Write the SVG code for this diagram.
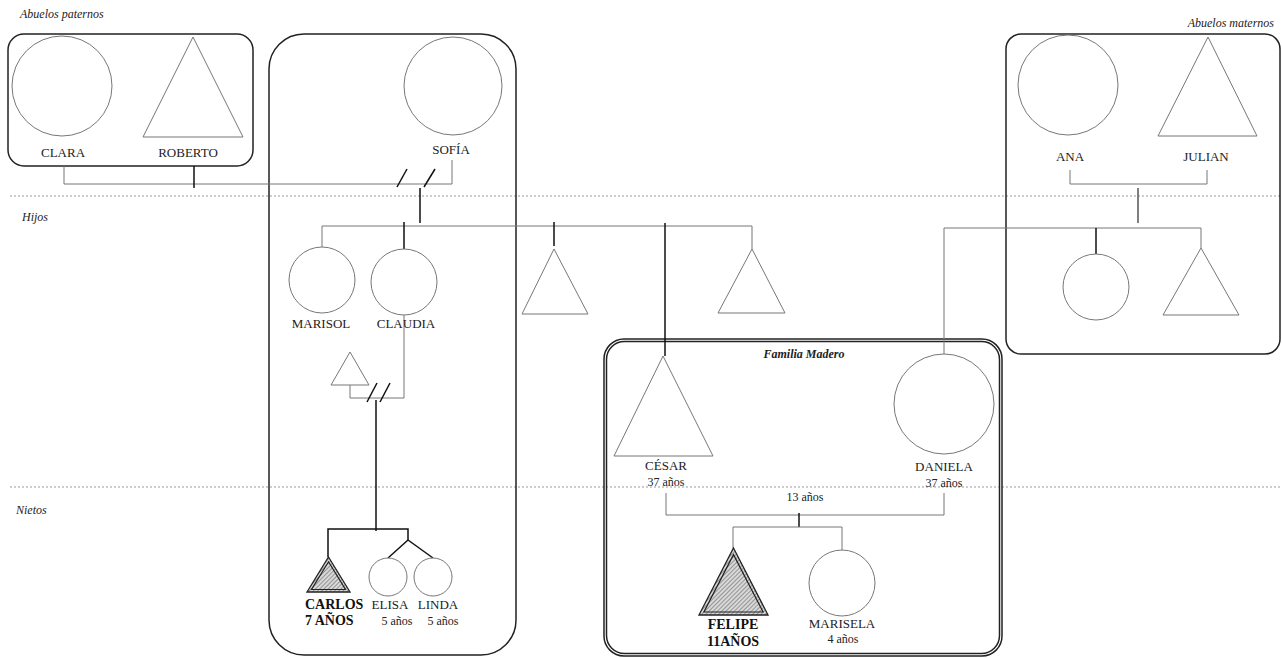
<svg xmlns="http://www.w3.org/2000/svg" width="1282" height="658" viewBox="0 0 1282 658">
<style>
.bg{fill:#fff}
.box{fill:none;stroke:#222;stroke-width:1.5}
.shape{fill:#fff;stroke:#777;stroke-width:1}
.c{fill:none;stroke:#777;stroke-width:1}
.cb{fill:none;stroke:#111;stroke-width:1.5}
.dot{stroke:#999;stroke-width:1;stroke-dasharray:2,2}
.n{font-family:"Liberation Serif","DejaVu Serif",serif;font-size:13px;fill:#222;text-anchor:middle}
.a{font-family:"Liberation Serif","DejaVu Serif",serif;font-size:12px;fill:#222;text-anchor:middle}
.b{font-family:"Liberation Serif","DejaVu Serif",serif;font-size:14px;font-weight:bold;fill:#111}
.lab{font-family:"Liberation Serif","DejaVu Serif",serif;font-size:12px;font-style:italic;fill:#222}
.hat{fill:url(#hatch);stroke:#222;stroke-width:1.3}
.hin{fill:none;stroke:#222;stroke-width:1.2}
</style>
<defs>
<pattern id="hatch" width="3" height="3" patternUnits="userSpaceOnUse" patternTransform="rotate(45)">
<rect width="3" height="3" fill="#d8d8d8"/>
<line x1="0" y1="0" x2="0" y2="3" stroke="#777" stroke-width="1.4"/>
</pattern>
</defs>
<rect class="bg" x="0" y="0" width="1282" height="658"/>

<g id="generations">
<line class="dot" x1="10" y1="196" x2="1282" y2="196"/>
<line class="dot" x1="10" y1="487" x2="1282" y2="487"/>
<text class="lab" x="20" y="18">Abuelos paternos</text>
<text class="lab" x="1274" y="27" text-anchor="end">Abuelos maternos</text>
<text class="lab" x="22" y="221">Hijos</text>
<text class="lab" x="16" y="514">Nietos</text>
</g>

<g id="boxes">
<rect class="box" x="8" y="34" width="245" height="132" rx="16"/>
<rect class="box" x="269" y="34" width="247" height="621" rx="35"/>
<rect class="box" x="1006" y="34" width="274" height="320" rx="15"/>
<rect class="box" x="604" y="339" width="398" height="317" rx="20"/>
<rect class="box" x="606.5" y="341.5" width="393" height="312" rx="18" stroke-width="1"/>
<text class="lab" x="804" y="358" text-anchor="middle" font-weight="bold">Familia Madero</text>
</g>

<g id="connectors">
<polyline class="c" points="64,166 64,184 452,184 452,160"/>
<line class="cb" x1="194" y1="166" x2="194" y2="188"/>
<line class="cb" x1="397" y1="187" x2="407" y2="169"/>
<line class="cb" x1="424" y1="187" x2="435" y2="169"/>
<line class="cb" x1="420" y1="188" x2="420" y2="223"/>
<polyline class="c" points="322,247 322,226 752,226 752,249"/>
<line class="cb" x1="404" y1="222" x2="404" y2="249"/>
<line class="cb" x1="554" y1="222" x2="554" y2="246"/>
<line class="cb" x1="665" y1="223" x2="665" y2="356"/>
<polyline class="c" points="350,385 350,398 404,398 404,315"/>
<line class="cb" x1="367" y1="402" x2="377" y2="383"/>
<line class="cb" x1="380" y1="402" x2="390" y2="383"/>
<line class="cb" x1="376" y1="400" x2="376" y2="531"/>
<polyline class="cb" points="328,557 328,529 408,529 408,540"/>
<line class="cb" x1="408" y1="540" x2="388" y2="558"/>
<line class="cb" x1="408" y1="540" x2="433" y2="558"/>
<polyline class="c" points="1070,170 1070,184 1207,184 1207,170"/>
<line x1="1138" y1="188" x2="1138" y2="223" stroke="#555" stroke-width="1.5"/>
<polyline class="c" points="944,354 944,228 1201,228 1201,248"/>
<line class="cb" x1="1096" y1="228" x2="1096" y2="254"/>
<polyline class="c" points="666,493 666,515 944,515 944,493"/>
<line class="cb" x1="799" y1="513" x2="799" y2="527"/>
<polyline class="c" points="733,548 733,527 842,527 842,550"/>
</g>

<g id="clara">
<circle class="shape" cx="62" cy="86" r="50"/>
<text class="n" x="63" y="157">CLARA</text>
</g>
<g id="roberto">
<polygon class="shape" points="193,37 243,137 143,137"/>
<text class="n" x="188" y="157">ROBERTO</text>
</g>
<g id="sofia">
<circle class="shape" cx="453" cy="86" r="49"/>
<text class="n" x="451" y="154">SOFÍA</text>
</g>
<g id="ana">
<circle class="shape" cx="1068" cy="85" r="50"/>
<text class="n" x="1070" y="161">ANA</text>
</g>
<g id="julian">
<polygon class="shape" points="1208,37 1257,136 1158,136"/>
<text class="n" x="1206" y="161">JULIAN</text>
</g>
<g id="marisol">
<circle class="shape" cx="322" cy="280" r="33"/>
<text class="n" x="321" y="328">MARISOL</text>
</g>
<g id="claudia">
<circle class="shape" cx="404" cy="282" r="33"/>
<text class="n" x="406" y="328">CLAUDIA</text>
</g>
<g id="hermano1">
<polygon class="shape" points="554,249 588,314 522,314"/>
</g>
<g id="hermano2">
<polygon class="shape" points="752,249 785,313 718,313"/>
</g>
<g id="pareja-claudia">
<polygon class="shape" points="350,352 369,385 331,385"/>
</g>
<g id="tia-materna">
<circle class="shape" cx="1096" cy="287" r="33"/>
</g>
<g id="tio-materno">
<polygon class="shape" points="1201,248 1239,315 1163,315"/>
</g>
<g id="cesar">
<polygon class="shape" points="663,356 713,456 614,456"/>
<text class="n" x="666" y="470">CÉSAR</text>
<text class="a" x="666" y="486">37 años</text>
</g>
<g id="daniela">
<circle class="shape" cx="944" cy="404" r="50"/>
<text class="n" x="944" y="471">DANIELA</text>
<text class="a" x="944" y="487">37 años</text>
</g>
<g id="felipe">
<polygon class="hat" points="733.5,548 768,615 699,615"/>
<polygon class="hin" points="733.5,554.6 763.1,612 703.9,612"/>
<text class="b" x="733" y="629" text-anchor="middle">FELIPE</text>
<text class="b" x="733" y="646" text-anchor="middle">11AÑOS</text>
</g>
<g id="marisela">
<circle class="shape" cx="842" cy="583" r="33"/>
<text class="n" x="842" y="628">MARISELA</text>
<text class="a" x="843" y="643">4 años</text>
</g>
<g id="carlos">
<polygon class="hat" points="328.5,557 350,592 307,592"/>
<polygon class="hin" points="328.5,561.8 345.5,589.5 311.5,589.5"/>
<text class="b" x="305" y="609">CARLOS</text>
<text class="b" x="305" y="625">7 AÑOS</text>
</g>
<g id="elisa">
<circle class="shape" cx="388" cy="577" r="19"/>
<text class="n" x="390" y="609">ELISA</text>
<text class="a" x="397" y="625">5 años</text>
</g>
<g id="linda">
<circle class="shape" cx="433" cy="577" r="19"/>
<text class="n" x="438" y="609">LINDA</text>
<text class="a" x="443" y="625">5 años</text>
</g>
<g id="label-13">
<text class="a" x="805" y="501">13 años</text>
</g>
</svg>
